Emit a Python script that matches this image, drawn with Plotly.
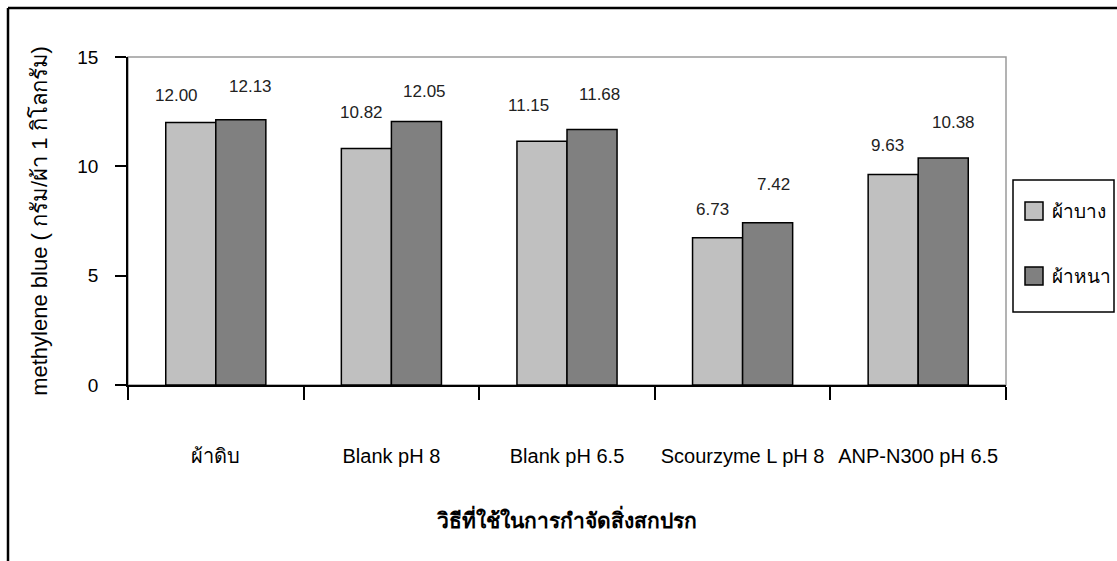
import plotly.graph_objects as go

# Stain removal results: methylene blue uptake per kg of fabric
categories = ["ผ้าดิบ", "Blank pH 8", "Blank pH 6.5", "Scourzyme L pH 8", "ANP-N300 pH 6.5"]
thin_fabric = [12.00, 10.82, 11.15, 6.73, 9.63]
thick_fabric = [12.13, 12.05, 11.68, 7.42, 10.38]
series_names = ["ผ้าบาง", "ผ้าหนา"]
y_ticks = [0, 5, 10, 15]

W, H = 1117, 561
L, R, T, B = 128, 111, 57, 176
PW, PH = W - L - R, H - T - B

FONT = "Liberation Sans, Arial, sans-serif"
LIGHT, DARK = "#c0c0c0", "#808080"


def px(x):
    return (x - L) / PW


def py(y):
    return (H - B - y) / PH


fig = go.Figure()
for name, vals, col in [(series_names[0], thin_fabric, LIGHT), (series_names[1], thick_fabric, DARK)]:
    fig.add_trace(go.Bar(
        x=categories, y=vals, name=name, marker_color=col,
        marker_line=dict(color="black", width=1.5), showlegend=False,
    ))

# value labels above each bar (pixel nudges keep them clear of neighbours)
label_dx = [(-39, 35), (-30, 33), (-39, 32), (-30, 31), (-31, 35)]
label_dy = [(27, 33), (36, 30), (36, 35), (28, 38), (29, 36)]
for i, cat in enumerate(categories):
    for j, vals in enumerate([thin_fabric, thick_fabric]):
        fig.add_annotation(
            x=cat, y=vals[i], text=f"{vals[i]:.2f}", showarrow=False,
            xshift=label_dx[i][j], yshift=label_dy[i][j], yanchor="middle",
            font=dict(family=FONT, size=17, color="#222"),
        )

shapes = [
    # plot-area frame (top/right in grey)
    dict(type="rect", xref="paper", yref="paper", x0=0, x1=1, y0=0, y1=1,
         line=dict(color="#9a9a9a", width=1.5), layer="below"),
    # chart frame
    dict(type="line", xref="paper", yref="paper", x0=px(8), x1=px(W + 5), y0=py(8), y1=py(8),
         line=dict(color="black", width=2.5)),
    dict(type="line", xref="paper", yref="paper", x0=px(8), x1=px(8), y0=py(8), y1=py(H + 5),
         line=dict(color="black", width=2.5)),
    # legend box
    dict(type="rect", xref="paper", yref="paper", x0=px(1013), x1=px(1114), y0=py(180), y1=py(312),
         line=dict(color="black", width=1.5), fillcolor="white"),
]
for k, (name, col) in enumerate(zip(series_names, [LIGHT, DARK])):
    yc = 211 + 65 * k
    shapes.append(dict(type="rect", xref="paper", yref="paper",
                       x0=px(1025), x1=px(1043), y0=py(yc - 9), y1=py(yc + 9),
                       fillcolor=col, line=dict(color="black", width=1.5)))
    fig.add_annotation(xref="paper", yref="paper", x=px(1050), y=py(yc), text=name,
                       showarrow=False, xanchor="left", yanchor="middle",
                       font=dict(family=FONT, size=19, color="black"))

fig.update_layout(
    width=W, height=H,
    margin=dict(l=L, r=R, t=T, b=B, autoexpand=False),
    paper_bgcolor="white", plot_bgcolor="white",
    barmode="group", bargap=0.43, bargroupgap=0,
    shapes=shapes,
    font=dict(family=FONT, size=17, color="black"),
)
fig.update_xaxes(
    showline=True, linecolor="black", linewidth=1.5,
    ticks="outside", ticklen=13, tickcolor="black", tickwidth=1.5,
    tickson="boundaries", tickangle=0, ticklabelstandoff=52,
    tickfont=dict(family=FONT, size=20, color="black"),
    title=dict(text="<b>วิธีที่ใช้ในการกำจัดสิ่งสกปรก</b>", standoff=48,
               font=dict(family=FONT, size=21, color="black")),
)
fig.update_yaxes(
    range=[0, 15], tickvals=y_ticks, showgrid=False, zeroline=False,
    showline=True, linecolor="black", linewidth=1.5,
    ticks="outside", ticklen=11, tickcolor="black", tickwidth=1.5,
    ticklabelstandoff=13,
    tickfont=dict(family=FONT, size=19, color="black"),
    title=dict(text="methylene blue ( กรัม/ผ้า 1 กิโลกรัม)", standoff=24,
               font=dict(family=FONT, size=22, color="black")),
)

fig.write_html("out.html")
